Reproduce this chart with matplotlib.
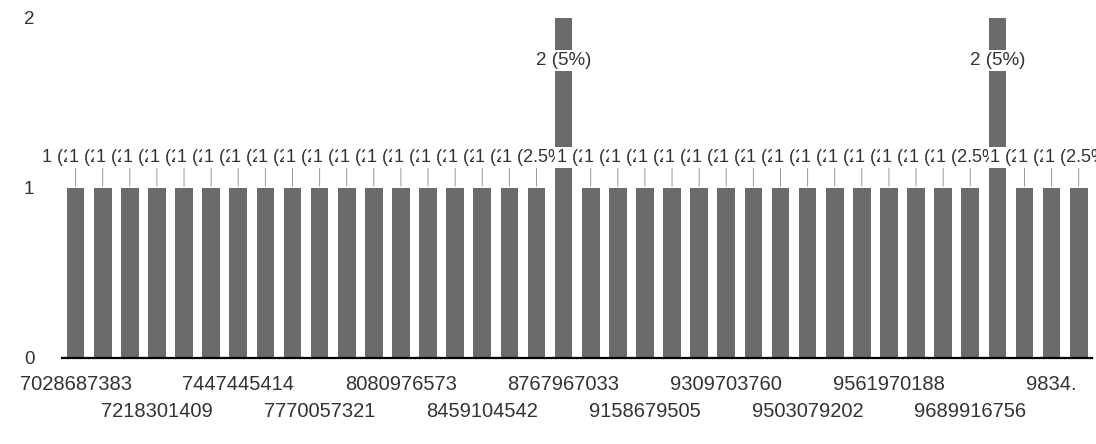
import matplotlib.pyplot as plt

plt.rcParams['font.family'] = ['Liberation Sans', 'DejaVu Sans']

# 38 categories, only every third one is labelled on the axis
values = [1] * 18 + [2] + [1] * 15 + [2] + [1] * 3
tick_idx = list(range(0, 38, 3))
tick_labels = ['7028687383', '7218301409', '7447445414', '7770057321',
               '8080976573', '8459104542', '8767967033', '9158679505',
               '9309703760', '9503079202', '9561970188', '9689916756',
               '9834.']
total = sum(values)

fig = plt.figure(figsize=(10.96, 4.44), dpi=100)
ax = fig.add_axes([0.0566, 0.194, 0.94, 0.766])

x = list(range(len(values)))
ax.bar(x, values, width=0.65, color='#6b6b6b', zorder=2)
ax.set_xlim(-0.5, len(values) - 0.5)
ax.set_ylim(0, 2)

for i, v in enumerate(values):
    txt = f"{v} ({v / total * 100:g}%)"
    if v == 2:
        ax.annotate(txt, xy=(i, v - 0.25), ha='center', va='center',
                    fontsize=13.5, color='#333333', zorder=10 + i,
                    bbox=dict(boxstyle='square,pad=0.1', fc='white', ec='none'))
    else:
        ax.annotate(txt, xy=(i, v), xytext=(i, v + 0.18),
                    ha='center', va='center', fontsize=13, color='#333333',
                    zorder=10 + i, annotation_clip=False,
                    bbox=dict(boxstyle='square,pad=0.1', fc='white', ec='none'),
                    arrowprops=dict(arrowstyle='-', color='#999999', lw=0.7,
                                    shrinkA=0, shrinkB=1))

ax.set_xticks(tick_idx)
ax.set_xticklabels([lab if k % 2 == 0 else '\n' + lab
                    for k, lab in enumerate(tick_labels)],
                   fontsize=14.5, color='#333333', linespacing=1.58)
ax.set_yticks([0, 1, 2])
ax.set_yticklabels(['0', '1', '2'], fontsize=13.5, color='#333333')
ax.tick_params(axis='x', length=0, pad=12)
ax.tick_params(axis='y', length=0, pad=20)

for s in ['top', 'right', 'left']:
    ax.spines[s].set_visible(False)
ax.spines['bottom'].set_linewidth(1.6)
ax.spines['bottom'].set_zorder(5)

fig.savefig('out.png', dpi=100)
